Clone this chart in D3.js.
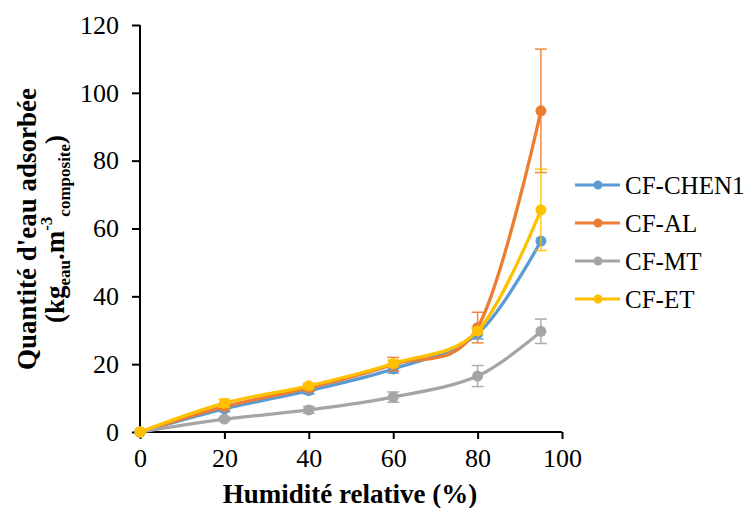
<!DOCTYPE html>
<html><head><meta charset="utf-8">
<script src="https://cdn.jsdelivr.net/npm/d3@7"></script>
<style>body{margin:0;background:#fff;} svg{display:block;}</style>
</head><body>
<svg id="c" width="753" height="508"></svg>
<script>
const humidity = [0, 20, 40, 60, 80, 95];
const seriesNames = ["CF-CHEN1", "CF-AL", "CF-MT", "CF-ET"];
const seriesColors = ["#5B9BD5", "#ED7D31", "#A5A5A5", "#FFC000"];
const chen1 = [0, 6.8, 12.2, 18.6, 29.0, 56.3];
const chen1Err = [0, 0.8, 1.0, 1.2, 1.6, 0];
const al = [0, 7.5, 13.0, 20.0, 30.8, 94.7];
const alErr = [0, 0.8, 1.0, 2.0, 4.5, 18.2];
const mt = [0, 3.8, 6.5, 10.3, 16.5, 29.7];
const mtErr = [0, 0.5, 1.0, 1.5, 3.1, 3.6];
const et = [0, 8.5, 13.6, 20.2, 29.8, 65.5];
const etErr = [0, 1.2, 0.8, 1.0, 1.0, 12.0];
const xTicks = [0, 20, 40, 60, 80, 100];
const yTicks = [0, 20, 40, 60, 80, 100, 120];

const series = [
  {name: seriesNames[0], color: seriesColors[0], v: chen1, e: chen1Err},
  {name: seriesNames[1], color: seriesColors[1], v: al, e: alErr},
  {name: seriesNames[2], color: seriesColors[2], v: mt, e: mtErr},
  {name: seriesNames[3], color: seriesColors[3], v: et, e: etErr}
];

const svg = d3.select("#c");
const x = d3.scaleLinear().domain([0, 100]).range([140, 562]);
const y = d3.scaleLinear().domain([0, 120]).range([432, 25]);
const font = "'Liberation Serif','Times New Roman',serif";

// axes
const xAxis = svg.append("g").attr("transform", "translate(0,432)")
  .call(d3.axisBottom(x).tickValues(xTicks).tickSize(7).tickPadding(10).tickFormat(d3.format("d")));
const yAxis = svg.append("g").attr("transform", "translate(140,0)")
  .call(d3.axisLeft(y).tickValues(yTicks).tickSize(8).tickPadding(13).tickFormat(d3.format("d")));
[xAxis, yAxis].forEach(a => {
  a.select(".domain").attr("stroke", "#000").attr("stroke-width", 2);
  a.selectAll(".tick line").attr("stroke", "#000").attr("stroke-width", 2);
  a.selectAll(".tick text").attr("font-family", font).attr("font-size", 26).attr("fill", "#000");
});
xAxis.select(".domain").attr("d", "M140,0H562");
yAxis.select(".domain").attr("d", "M0,25V432");

const line = d3.line().x((d, i) => x(humidity[i])).y(d => y(d)).curve(d3.curveCatmullRom.alpha(0));

series.forEach(s => {
  const g = svg.append("g");
  // error bars
  const eb = g.append("g").attr("stroke", s.color).attr("stroke-width", 1.5).attr("opacity", 0.9);
  s.v.forEach((v, i) => {
    const err = s.e[i];
    if (!err) return;
    const cx = x(humidity[i]);
    eb.append("line").attr("x1", cx).attr("x2", cx).attr("y1", y(v + err)).attr("y2", y(v - err));
    eb.append("line").attr("x1", cx - 6).attr("x2", cx + 6).attr("y1", y(v + err)).attr("y2", y(v + err));
    eb.append("line").attr("x1", cx - 6).attr("x2", cx + 6).attr("y1", y(v - err)).attr("y2", y(v - err));
  });
  g.append("path").datum(s.v).attr("d", line).attr("fill", "none")
    .attr("stroke", s.color).attr("stroke-width", 3.3).attr("stroke-linecap", "round");
  g.selectAll("circle").data(s.v).join("circle")
    .attr("cx", (d, i) => x(humidity[i])).attr("cy", d => y(d)).attr("r", 5.5).attr("fill", s.color);
});

// legend
const leg = svg.append("g");
const legY = d3.scalePoint().domain(seriesNames).range([185, 299]);
series.forEach(s => {
  const ly = legY(s.name);
  leg.append("line").attr("x1", 575).attr("x2", 620).attr("y1", ly).attr("y2", ly)
    .attr("stroke", s.color).attr("stroke-width", 3);
  leg.append("circle").attr("cx", 598).attr("cy", ly).attr("r", 4.5).attr("fill", s.color);
  leg.append("text").attr("x", 625).attr("y", ly).attr("dy", "0.35em")
    .attr("font-family", font).attr("font-size", 25).attr("fill", "#000").text(s.name);
});

// axis titles
svg.append("text").attr("x", 350).attr("y", 503).attr("text-anchor", "middle")
  .attr("font-family", font).attr("font-weight", "bold").attr("font-size", 27).text("Humidité relative (%)");

const yt = svg.append("g").attr("transform", "translate(36,229) rotate(-90)");
yt.append("text").attr("text-anchor", "middle").attr("font-family", font)
  .attr("font-weight", "bold").attr("font-size", 27).text("Quantité d'eau adsorbée");
const t2 = yt.append("text").attr("y", 28).attr("text-anchor", "middle").attr("font-family", font)
  .attr("font-weight", "bold").attr("font-size", 27);
t2.append("tspan").text("(kg");
t2.append("tspan").attr("font-size", 17).attr("dy", 6).text("eau");
t2.append("tspan").attr("dy", -6).text(".m");
t2.append("tspan").attr("font-size", 17).attr("dy", -12).text("-3");
t2.append("tspan").attr("font-size", 17).attr("dy", 18).text("composite");
t2.append("tspan").attr("dy", -6).text(")");
</script>
</body></html>
